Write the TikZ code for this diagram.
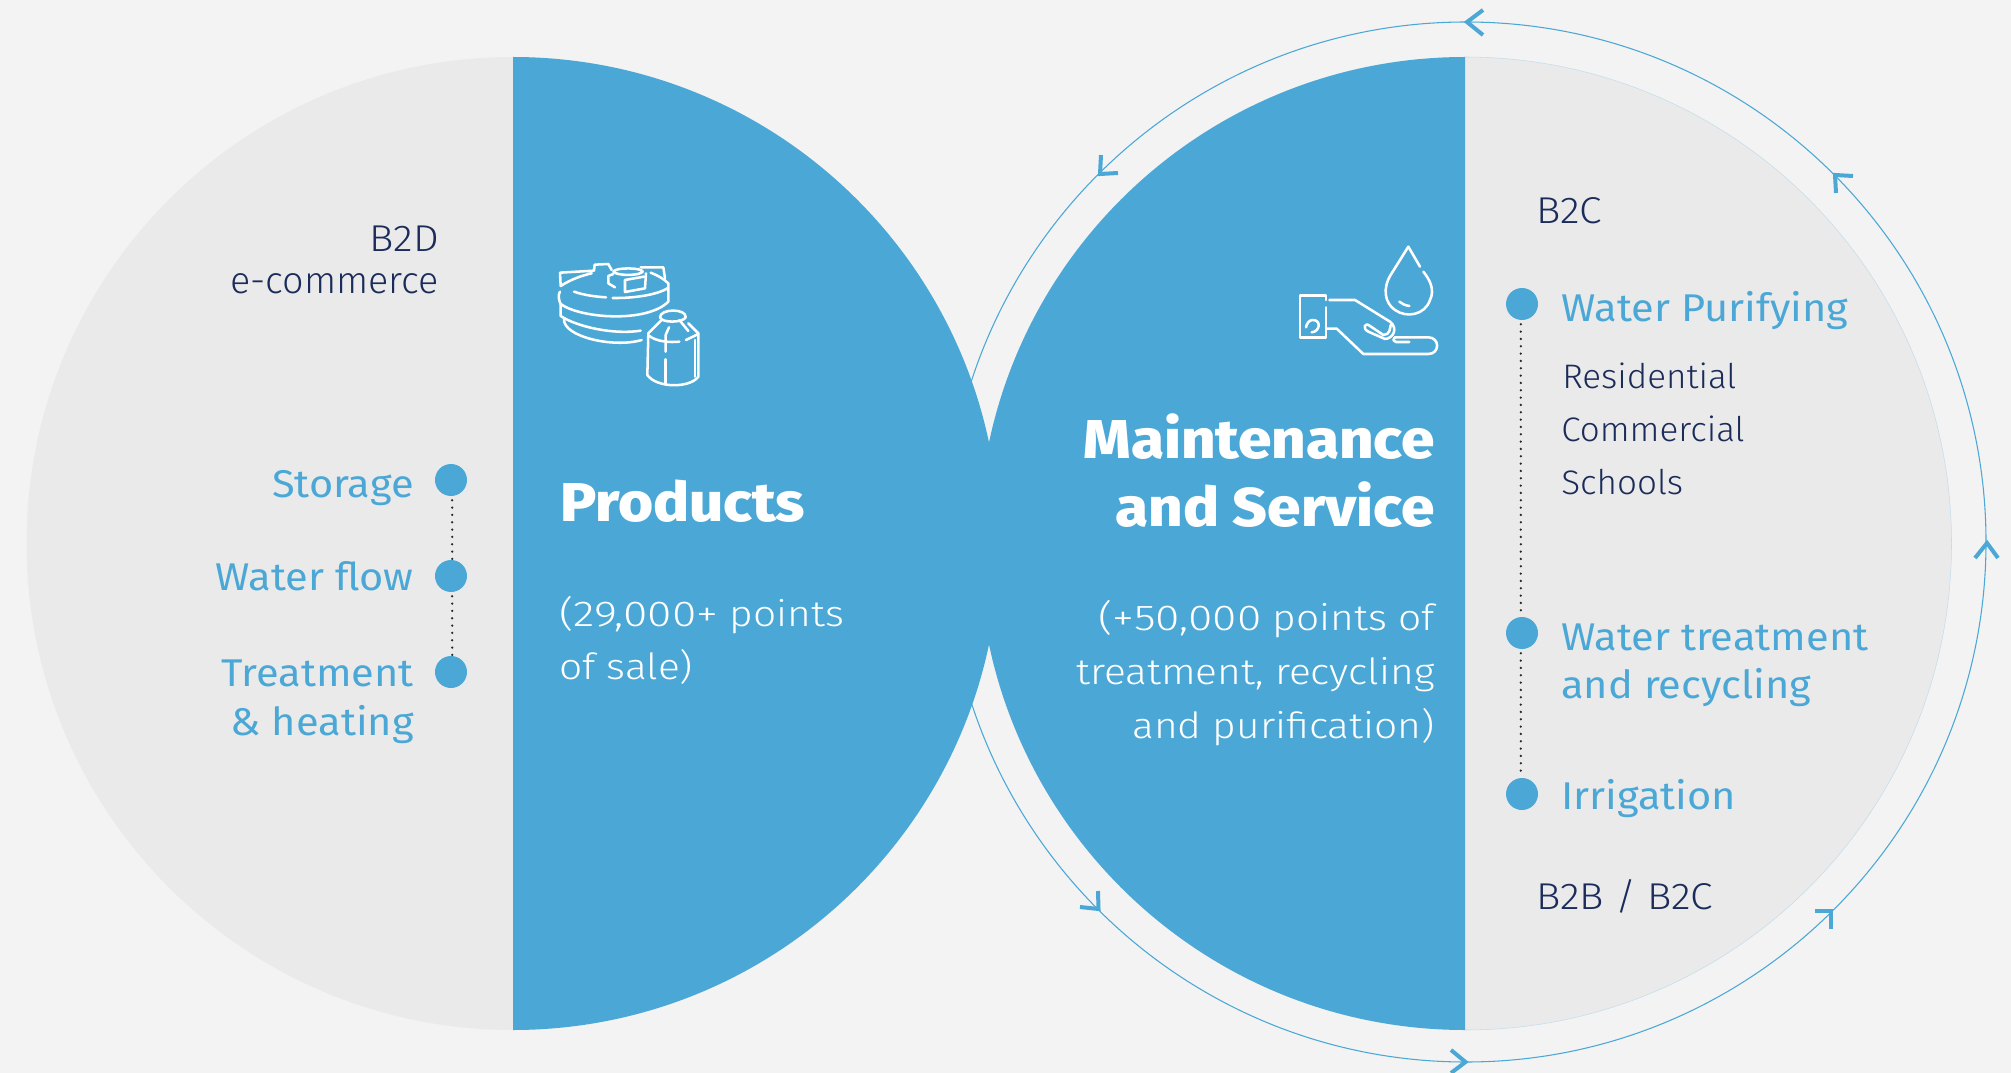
\documentclass[tikz,border=0pt]{standalone}
\usepackage{fontspec}
\setmainfont{Fira Sans}
\newfontfamily\lightf[FakeStretch=1.13]{Fira Sans Light}
\newfontfamily\digitf[FakeStretch=1.23]{Fira Sans Light}
\newfontfamily\bxf[FakeStretch=1.09]{Fira Sans Light}
\newfontfamily\ecf[FakeStretch=1.01]{Fira Sans Light}
\newfontfamily\listf[FakeStretch=1.03]{Fira Sans Light}
\newfontfamily\medf[FakeStretch=1.075]{Fira Sans}
\newfontfamily\boldf[FakeStretch=1.1]{Fira Sans ExtraBold}
\definecolor{bgc}{HTML}{F3F3F3}
\definecolor{greyc}{HTML}{EAEAEA}
\definecolor{bluec}{HTML}{4BA8D6}
\definecolor{navy}{HTML}{1B2C5A}
\definecolor{edgec}{HTML}{C3DDEA}
\tikzset{
  dark/.style={inner sep=0pt,text=navy,font=\bxf\fontsize{28}{32}\selectfont},
  ecom/.style={inner sep=0pt,text=navy,font=\ecf\fontsize{28}{32}\selectfont},
  listing/.style={inner sep=0pt,text=navy,font=\listf\fontsize{25.5}{32}\selectfont},
  item/.style={inner sep=0pt,text=bluec,font=\medf\fontsize{29}{34}\selectfont},
  head/.style={inner sep=0pt,text=white,font=\boldf\fontsize{41}{48}\selectfont},
  sub/.style={inner sep=0pt,text=white,font=\lightf\fontsize{27}{32}\selectfont},
  dot/.style={circle,fill=bluec,minimum size=24pt,inner sep=0pt},
  dotline/.style={line width=1.9pt,line cap=round,dash pattern=on 0pt off 5.5pt,black!85},
  ring/.style={line width=0.8pt,bluec},
  chev/.style={line width=3pt,bluec,line cap=butt,line join=miter},
  icon/.style={line width=1.9pt,white,line cap=round,line join=round},
}
\begin{document}
\begin{tikzpicture}[x=0.75pt,y=-0.75pt]
\useasboundingbox (0,0) rectangle (2011,1073);
\fill[bgc] (0,0) rectangle (2011,1073);
% outer ring
\draw[ring] (1466,542) circle (390pt);
% left circle
\fill[greyc] (513,57) arc (90:270:364.875pt) -- cycle;
\fill[bluec] (513,57) arc (90:-90:364.875pt) -- cycle;
% right circle
\fill[greyc] (1465,57) arc (90:-90:364.875pt) -- cycle;
\draw[edgec,line width=0.4pt] (1465,57) arc (90:-90:364.875pt);
\fill[bluec] (1465,57) arc (90:270:364.875pt) -- cycle;
% ring arrowheads
\draw[chev] (1483,10) -- (1467,22) -- (1483,35);
\draw[chev] (1101,155) -- (1100,174) -- (1118,173);
\draw[chev] (1853,176) -- (1835,175) -- (1836,193);
\draw[chev] (1098,891) -- (1098.5,909) -- (1080,907);
\draw[chev] (1815,911) -- (1831,911) -- (1831,929);
\draw[chev] (1451,1050) -- (1465.5,1062) -- (1451,1073);
\draw[chev] (1975,558) -- (1987,543) -- (1998,558);
% left dots
\node[dot] (d1) at (451,480) {};
\node[dot] (d2) at (451,576) {};
\node[dot] (d3) at (451,672) {};
\draw[dotline] ([xshift=0.9pt,yshift=-3pt]d1.south) -- ([xshift=0.9pt]d2.north);
\draw[dotline] ([xshift=0.9pt,yshift=-3pt]d2.south) -- ([xshift=0.9pt]d3.north);
% right dots
\node[dot] (e1) at (1522,304) {};
\node[dot] (e2) at (1522,633) {};
\node[dot] (e3) at (1522,794) {};
\draw[dotline] ([xshift=-0.9pt,yshift=-3pt]e1.south) -- ([xshift=-0.9pt]e2.north);
\draw[dotline] ([xshift=-0.9pt,yshift=-3pt]e2.south) -- ([xshift=-0.9pt]e3.north);
% left text
\node[dark,anchor=base east] (t1) at (439,252) {B2D};
\node[ecom,anchor=base east] (t2) at (439,294) {e-commerce};
\node[item,anchor=base east] (t3) at (414,497) {Storage};
\node[item,anchor=base east] (t4) at (414,590) {Water flow};
\node[item,anchor=base east] (t5) at (414,686) {Treatment};
\node[item,anchor=base east] (t6) at (414,735) {\& heating};
\node[head,anchor=base west] (t7) at (560,521) {Products};
\node[sub,anchor=base west] (t8) at (559,626) {{\digitf (29,000+} points};
\node[sub,anchor=base west] (t9) at (559,679) {of sale)};
% centre text
\node[head,anchor=base east] (t10) at (1435,458) {Maintenance};
\node[head,anchor=base east] (t11) at (1435,526) {and Service};
\node[sub,anchor=base east] (t12) at (1435,630) {{\digitf (+50,000} points of};
\node[sub,anchor=base east] (t13) at (1435,684) {treatment, recycling};
\node[sub,anchor=base east] (t14) at (1435,738) {and purification)};
% right text
\node[dark,anchor=base west] (t15) at (1536,224) {B2C};
\node[item,anchor=base west] (t16) at (1561,322) {Water Purifying};
\node[listing,anchor=base west] (t17) at (1562,388) {Residential};
\node[listing,anchor=base west] (t18) at (1561,441) {Commercial};
\node[listing,anchor=base west] (t19) at (1561,494) {Schools};
\node[item,anchor=base west] (t20) at (1561,650) {Water treatment};
\node[item,anchor=base west] (t21) at (1561,698) {and recycling};
\node[item,anchor=base west] (t22) at (1561,809) {Irrigation};
\node[dark,anchor=base west] (t23) at (1536,909) {B2B / B2C};
% tank icon
\begin{scope}[shift={(520,230)},x=0.25pt,y=-0.25pt]
\draw[icon] (215,130) .. controls (180,138) and (150,150) .. (122,168) -- (120,128) -- (222,122) -- (224,104) -- (265,102) -- (275,120);
\draw[icon] (120,185) .. controls (112,195) and (118,215) .. (122,222) .. controls (180,265) and (380,280) .. (445,215) -- (445,160) .. controls (430,145) and (410,135) .. (392,128);
\draw[icon] (362,112) -- (430,112) -- (435,145);
\draw[icon] (162,185) .. controls (190,195) and (225,200) .. (258,202);
\draw[icon] (278,204) .. controls (340,205) and (410,195) .. (442,175);
\draw[icon] (280,125) .. controls (285,112) and (365,112) .. (368,125) .. controls (360,138) and (290,138) .. (280,125);
\draw[icon] (285,172) -- (265,160) -- (265,138) -- (280,132);
\draw[icon] (315,150) -- (315,186) -- (375,175) -- (378,130);
\draw[icon] (315,150) -- (372,140);
\draw[icon] (122,222) -- (122,258) .. controls (170,290) and (280,315) .. (362,302);
\draw[icon] (132,268) .. controls (130,320) and (280,355) .. (365,330);
\draw[icon] (420,262) .. controls (420,235) and (500,235) .. (497,262) .. controls (490,278) and (425,280) .. (420,262);
\draw[icon] (423,272) -- (385,310) -- (382,435) .. controls (410,475) and (510,475) .. (535,440) -- (535,310) -- (505,280);
\draw[icon] (478,270) -- (505,303);
\draw[icon] (388,318) .. controls (410,335) and (450,338) .. (478,335);
\draw[icon] (498,330) -- (535,312);
\draw[icon] (447,292) -- (437,315) -- (437,365);
\draw[icon] (437,388) -- (437,460);
\draw[icon] (525,330) -- (525,440);
\end{scope}
% hand icon
\begin{scope}[shift={(1270,220)},x=0.25pt,y=-0.25pt]
\draw[icon] (415,80) -- (450,140);
\draw[icon] (415,80) -- (365,160) .. controls (335,205) and (345,250) .. (375,270) .. controls (410,295) and (465,285) .. (480,240) .. controls (495,210) and (480,180) .. (460,155);
\draw[icon] (388,245) .. controls (397,252) and (405,256) .. (418,258);
\draw[icon] (168,240) -- (168,226) -- (90,226) -- (90,352) -- (168,352) -- (168,262);
\draw[icon] (178,240) -- (255,240) -- (360,305) .. controls (385,325) and (370,355) .. (345,357) -- (295,335) .. controls (275,325) and (285,305) .. (300,318) -- (340,345) .. controls (360,345) and (360,325) .. (362,315);
\draw[icon] (170,326) -- (200,326) -- (280,402) -- (475,402) .. controls (510,402) and (510,352) .. (475,352) -- (375,352) .. controls (368,358) and (370,366) .. (378,366) -- (418,366);
\draw[icon] (125,337) .. controls (150,335) and (155,300) .. (128,300) .. controls (118,300) and (110,310) .. (108,322);
\end{scope}
\end{tikzpicture}
\end{document}
